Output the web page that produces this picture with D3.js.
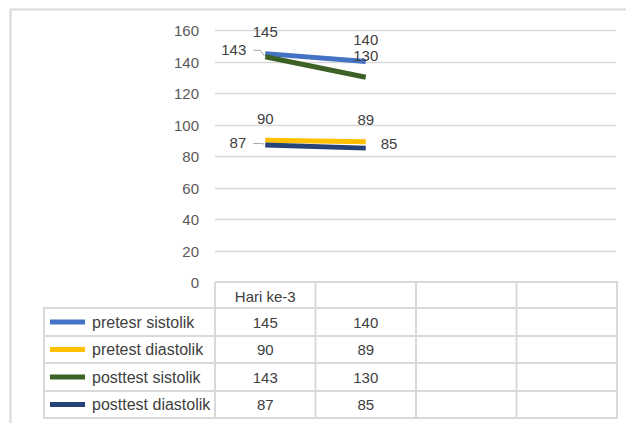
<!DOCTYPE html>
<html>
<head>
<meta charset="utf-8">
<script src="https://cdn.jsdelivr.net/npm/d3@7"></script>
<style>
  html, body { margin: 0; padding: 0; background: #fff; }
  svg { display: block; font-family: "Liberation Sans", Arial, sans-serif; }
</style>
</head>
<body>
<svg id="chart" width="626" height="423"></svg>
<script>
// Blood pressure readings per day, with a data table under the plot
const categories = ["Hari ke-3", "", "", ""];
const seriesNames = ["pretesr sistolik", "pretest diastolik", "posttest sistolik", "posttest diastolik"];
const pretesrSistolik = [145, 140, null, null];
const pretestDiastolik = [90, 89, null, null];
const posttestSistolik = [143, 130, null, null];
const posttestDiastolik = [87, 85, null, null];
const seriesColors = ["#4472C4", "#FFC000", "#3B6126", "#264478"];
const yTicks = [0, 20, 40, 60, 80, 100, 120, 140, 160];

const seriesValues = [pretesrSistolik, pretestDiastolik, posttestSistolik, posttestDiastolik];

const svg = d3.select("#chart");
const gridColor = "#d9d9d9";
const textColor = "#404040";
const fontSize = 15;

// outer chart frame
svg.append("rect")
  .attr("x", 10.5).attr("y", 9.5)
  .attr("width", 640).attr("height", 430)
  .attr("fill", "none").attr("stroke", gridColor).attr("stroke-width", 2);

const plot = { left: 215, right: 617, top: 30, bottom: 282 };

const x = d3.scaleBand()
  .domain(d3.range(categories.length))
  .range([plot.left, plot.right]);

const y = d3.scaleLinear()
  .domain([0, 160])
  .range([plot.bottom, plot.top]);

// horizontal gridlines
svg.append("g")
  .selectAll("line")
  .data(yTicks.filter(t => t > 0))
  .join("line")
  .attr("x1", plot.left).attr("x2", plot.right - 1)
  .attr("y1", d => Math.round(y(d)) + 0.5).attr("y2", d => Math.round(y(d)) + 0.5)
  .attr("stroke", gridColor).attr("stroke-width", 1.5);

// value axis labels
const yAxis = d3.axisLeft(y).tickValues(yTicks).tickSize(0).tickPadding(0);
const yAxisG = svg.append("g")
  .attr("transform", `translate(${199},1)`)
  .call(yAxis);
yAxisG.select(".domain").remove();
yAxisG.selectAll("text")
  .attr("fill", "#595959")
  .attr("font-size", fontSize)
  .attr("font-family", "Liberation Sans, Arial, sans-serif");

// series lines
const line = d3.line()
  .defined(d => d.v !== null)
  .x(d => x(d.i) + x.bandwidth() / 2)
  .y(d => y(d.v));

seriesValues.forEach((vals, s) => {
  svg.append("path")
    .datum(vals.map((v, i) => ({ v, i })))
    .attr("d", line)
    .attr("fill", "none")
    .attr("stroke", seriesColors[s])
    .attr("stroke-width", 5)
    .attr("stroke-linecap", "butt");
});

// data label placement per series point
const placement = [
  ["above", "above"],
  ["above", "above"],
  ["leftHigh", "above"],
  ["leftLow", "right"]
];

const labels = svg.append("g")
  .attr("font-size", fontSize)
  .attr("fill", textColor);

seriesValues.forEach((vals, s) => {
  vals.forEach((v, i) => {
    if (v === null) return;
    const px = x(i) + x.bandwidth() / 2;
    const py = y(v);
    const mode = placement[s][i];
    if (mode === "above") {
      labels.append("text")
        .attr("x", px).attr("y", py - 22)
        .attr("text-anchor", "middle").attr("dominant-baseline", "central")
        .text(v);
    } else if (mode === "right") {
      labels.append("text")
        .attr("x", px + 15).attr("y", py - 5)
        .attr("text-anchor", "start").attr("dominant-baseline", "central")
        .text(v);
    } else {
      const dy = mode === "leftHigh" ? -7 : -2;
      labels.append("text")
        .attr("x", px - 19).attr("y", py + dy)
        .attr("text-anchor", "end").attr("dominant-baseline", "central")
        .text(v);
      svg.append("path")
        .attr("d", `M${px - 12},${py + dy + 0.5} H${px - 5} L${px - 1},${py - 1}`)
        .attr("fill", "none").attr("stroke", "#a6a6a6").attr("stroke-width", 1);
    }
  });
});

// data table under the plot
const rowEdges = [282, 308, 336, 363, 391, 418];
const legendLeft = 44;
const table = svg.append("g");

// vertical column borders in header row and body
const colEdges = d3.range(categories.length + 1).map(i => i < categories.length ? x(i) : plot.right);
colEdges.forEach(cx => {
  table.append("line")
    .attr("x1", cx).attr("x2", cx)
    .attr("y1", rowEdges[0]).attr("y2", rowEdges[rowEdges.length - 1])
    .attr("stroke", gridColor).attr("stroke-width", 2);
});
table.append("line")
  .attr("x1", legendLeft).attr("x2", legendLeft)
  .attr("y1", rowEdges[1]).attr("y2", rowEdges[rowEdges.length - 1])
  .attr("stroke", gridColor).attr("stroke-width", 2);

rowEdges.forEach((ry, r) => {
  table.append("line")
    .attr("x1", r === 0 ? plot.left : legendLeft - 1).attr("x2", plot.right + 1)
    .attr("y1", ry).attr("y2", ry)
    .attr("stroke", gridColor).attr("stroke-width", 2);
});

// header row with category names
categories.forEach((c, i) => {
  table.append("text")
    .attr("x", x(i) + x.bandwidth() / 2)
    .attr("y", (rowEdges[0] + rowEdges[1]) / 2 + 1)
    .attr("text-anchor", "middle").attr("dominant-baseline", "central")
    .attr("font-size", fontSize).attr("fill", textColor)
    .text(c);
});

// body rows: legend key, series name, values
seriesNames.forEach((name, s) => {
  const cy = (rowEdges[s + 1] + rowEdges[s + 2]) / 2;
  table.append("line")
    .attr("x1", 50).attr("x2", 85)
    .attr("y1", cy).attr("y2", cy)
    .attr("stroke", seriesColors[s]).attr("stroke-width", 5);
  table.append("text")
    .attr("x", 92).attr("y", cy)
    .attr("dominant-baseline", "central")
    .attr("font-size", 16).attr("fill", textColor)
    .text(name);
  seriesValues[s].forEach((v, i) => {
    if (v === null) return;
    table.append("text")
      .attr("x", x(i) + x.bandwidth() / 2).attr("y", cy)
      .attr("text-anchor", "middle").attr("dominant-baseline", "central")
      .attr("font-size", fontSize).attr("fill", textColor)
      .text(v);
  });
});
</script>
</body>
</html>
